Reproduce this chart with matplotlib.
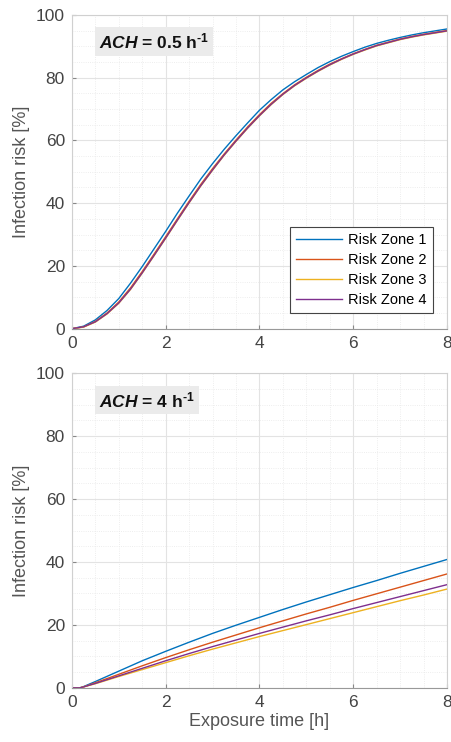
import numpy as np
import matplotlib
matplotlib.use('Agg')
import matplotlib.pyplot as plt
from matplotlib.ticker import MultipleLocator

plt.rcParams.update({
    'font.family': ['Liberation Sans', 'DejaVu Sans'],
    'mathtext.fontset': 'custom',
    'mathtext.rm': 'Liberation Sans:bold',
    'mathtext.bf': 'Liberation Sans:bold',
    'mathtext.it': 'Liberation Sans:italic',
    'mathtext.bfit': 'Liberation Sans:bold:italic',
})

# ---- data ----
zones = ['Risk Zone 1', 'Risk Zone 2', 'Risk Zone 3', 'Risk Zone 4']
colors = ['#0072BD', '#D95319', '#EDB120', '#7E2F8E']

# ACH = 0.5 1/h
t_hi = [0, 0.25, 0.5, 0.75, 1, 1.25, 1.5, 1.75, 2, 2.25, 2.5, 2.75, 3, 3.25, 3.5, 3.75,
        4, 4.25, 4.5, 4.75, 5, 5.25, 5.5, 5.75, 6, 6.25, 6.5, 6.75, 7, 7.25, 7.5, 7.75, 8]
zone1_hi = [0, 0.8, 2.8, 5.8, 9.6, 14.5, 19.8, 25.4, 31.0, 36.8, 42.3, 47.7, 52.6, 57.2, 61.5, 65.6,
            69.6, 73.0, 76.1, 78.7, 81.0, 83.2, 85.1, 86.8, 88.3, 89.7, 90.9, 91.9, 92.8, 93.6, 94.3, 94.9, 95.5]
zone2_hi = [0, 0.6, 2.3, 5.0, 8.5, 13.0, 18.2, 23.7, 29.3, 35.0, 40.6, 46.0, 51.0, 55.7, 60.1, 64.3,
            68.2, 71.8, 74.9, 77.7, 80.1, 82.3, 84.3, 86.0, 87.6, 89.0, 90.3, 91.3, 92.3, 93.1, 93.8, 94.4, 95.0]
zone3_hi = [0, 0.5, 2.1, 4.7, 8.1, 12.5, 17.7, 23.2, 28.8, 34.5, 40.1, 45.5, 50.5, 55.3, 59.7, 63.9,
            67.8, 71.4, 74.6, 77.4, 79.8, 82.0, 84.0, 85.8, 87.4, 88.8, 90.1, 91.1, 92.1, 92.9, 93.6, 94.2, 94.8]
zone4_hi = [0, 0.6, 2.2, 4.8, 8.2, 12.6, 17.8, 23.3, 28.9, 34.6, 40.2, 45.6, 50.6, 55.4, 59.8, 64.0,
            67.9, 71.5, 74.7, 77.5, 79.9, 82.1, 84.1, 85.9, 87.5, 88.9, 90.2, 91.2, 92.2, 93.0, 93.7, 94.3, 94.9]

# ACH = 4 1/h
t_lo = [0, 0.17, 0.25, 0.5, 1, 1.5, 2, 2.5, 3, 3.5, 4, 4.5, 5, 5.5, 6, 6.5, 7, 7.5, 8]
zone1_lo = [0, 0, 0.4, 2.0, 5.3, 8.6, 11.6, 14.5, 17.3, 19.9, 22.4, 24.9, 27.3, 29.6, 31.9, 34.1, 36.4, 38.6, 40.8]
zone2_lo = [0, 0, 0.3, 1.6, 4.3, 7.0, 9.6, 12.1, 14.5, 16.8, 19.1, 21.3, 23.5, 25.6, 27.8, 29.9, 32.0, 34.1, 36.2]
zone3_lo = [0, 0, 0.3, 1.3, 3.6, 5.8, 8.0, 10.2, 12.3, 14.3, 16.3, 18.2, 20.1, 22.0, 23.9, 25.8, 27.7, 29.5, 31.4]
zone4_lo = [0, 0, 0.3, 1.4, 3.8, 6.2, 8.6, 10.9, 13.1, 15.2, 17.3, 19.3, 21.3, 23.2, 25.2, 27.1, 29.0, 30.9, 32.8]

risk_hi = [zone1_hi, zone2_hi, zone3_hi, zone4_hi]
risk_lo = [zone1_lo, zone2_lo, zone3_lo, zone4_lo]
ach_labels = [r'$\mathbfit{ACH}$ = 0.5 h$^{\text{-1}}$', r'$\mathbfit{ACH}$ = 4 h$^{\text{-1}}$']

fig = plt.figure(figsize=(4.52, 7.42), dpi=100)
ax_top = fig.add_axes([0.159, 0.557, 0.830, 0.423])
ax_bot = fig.add_axes([0.159, 0.073, 0.830, 0.424])

for ax, t, risk, lab in [(ax_top, t_hi, risk_hi, ach_labels[0]),
                         (ax_bot, t_lo, risk_lo, ach_labels[1])]:
    for k in range(4):
        ax.plot(t, risk[k], color=colors[k], lw=1.0, label=zones[k])
    ax.set_xlim(0, 8)
    ax.set_ylim(0, 100)
    ax.xaxis.set_major_locator(MultipleLocator(2))
    ax.yaxis.set_major_locator(MultipleLocator(20))
    ax.xaxis.set_minor_locator(MultipleLocator(0.5))
    ax.yaxis.set_minor_locator(MultipleLocator(5))
    ax.grid(which='major', color='#e3e3e3', lw=0.8)
    ax.grid(which='minor', color='#e8e8e8', lw=0.6, ls=':')
    ax.set_axisbelow(True)
    ax.tick_params(which='major', direction='in', length=3, color='#888888',
                   labelsize=12.5, labelcolor='#444444', pad=5)
    ax.tick_params(which='minor', length=0)
    for s in ['top', 'right', 'left']:
        ax.spines[s].set_color('#d0d0d0')
    ax.spines['bottom'].set_color('#999999')
    ax.set_ylabel('Infection risk [%]', fontsize=13, color='#555555', labelpad=4)
    ax.text(0.58, 91.5, lab, fontsize=12.5, fontweight='bold', va='center',
            ha='left', color='#111111',
            bbox=dict(boxstyle='square,pad=0.25', fc='#ebebeb', ec='none'))

ax_bot.set_xlabel('Exposure time [h]', fontsize=13, color='#555555', labelpad=2)

leg = ax_top.legend(loc='lower right', fontsize=10.5, frameon=True, fancybox=False,
                    edgecolor='#444444', framealpha=1, handlelength=3.2,
                    handletextpad=0.4, borderpad=0.4, labelspacing=0.42,
                    bbox_to_anchor=(0.981, 0.026))
leg.get_frame().set_linewidth(0.8)

fig.savefig('out.png', dpi=100)
